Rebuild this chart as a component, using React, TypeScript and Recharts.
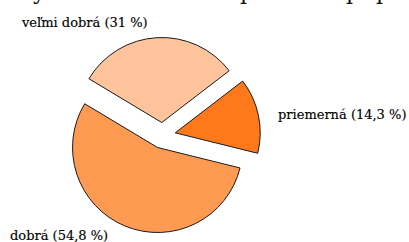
import React from "react";
import { PieChart, Pie, Cell } from "recharts";

const categories = ["veľmi dobrá", "priemerná", "dobrá"];
const percentLabels = ["31", "14,3", "54,8"];
const values = [31, 14.3, 54.8];
const colors = ["#FFC49B", "#FF781A", "#FF9A52"];
const topFragments = ["y", "p", "p", "p"];

const data = categories.map((name, i) => ({ name, value: values[i] }));

const W = 409;
const H = 242;
const CX = 162.5;
const CY = 135.5;
const R = 85;
const EXPLODE = 13;
const START = 149;
const END = START - 360;

const total = values.reduce((a, b) => a + b, 0);
const midAngles = values.map((v, i) => {
  const before = values.slice(0, i).reduce((a, b) => a + b, 0);
  return START - ((before + v / 2) / total) * 360;
});

const labelPos = [
  { x: 22, y: 27 },
  { x: 278, y: 119 },
  { x: 10, y: 240 },
];
const fragX = [33, 240, 346, 376];

const FONT = "'DejaVu Serif', serif";

export default function App() {
  return (
    <div style={{ position: "absolute", left: 0, top: 0, width: W, height: H, background: "#fff" }}>
      <PieChart width={W} height={H} margin={{ top: 0, right: 0, bottom: 0, left: 0 }}>
        {categories.map((_, k) => {
          const a = (midAngles[k] * Math.PI) / 180;
          const cx = CX + EXPLODE * Math.cos(a);
          const cy = CY - EXPLODE * Math.sin(a);
          return (
            <Pie
              key={k}
              data={data}
              dataKey="value"
              nameKey="name"
              cx={cx}
              cy={cy}
              innerRadius={0}
              outerRadius={R}
              startAngle={START}
              endAngle={END}
              isAnimationActive={false}
              labelLine={false}
              label={(p: any) =>
                p.index === k ? (
                  <text
                    x={labelPos[k].x}
                    y={labelPos[k].y}
                    textAnchor="start"
                    fontFamily={FONT}
                    fontSize={13}
                    fill="#000"
                    stroke="#000"
                    strokeWidth={0.15}
                  >
                    {`${categories[k]} (${percentLabels[k]} %)`}
                  </text>
                ) : null
              }
            >
              {data.map((_, i) => (
                <Cell
                  key={i}
                  fill={i === k ? colors[i] : "none"}
                  stroke={i === k ? "#1a1a1a" : "none"}
                  strokeWidth={1}
                />
              ))}
            </Pie>
          );
        })}
      </PieChart>
      <svg width={W} height={H} style={{ position: "absolute", left: 0, top: 0, pointerEvents: "none" }}>
        {topFragments.map((t, i) => (
          <text key={i} x={fragX[i]} y={-1} fontFamily={FONT} fontSize={22} fill="#111">
            {t}
          </text>
        ))}
      </svg>
    </div>
  );
}
